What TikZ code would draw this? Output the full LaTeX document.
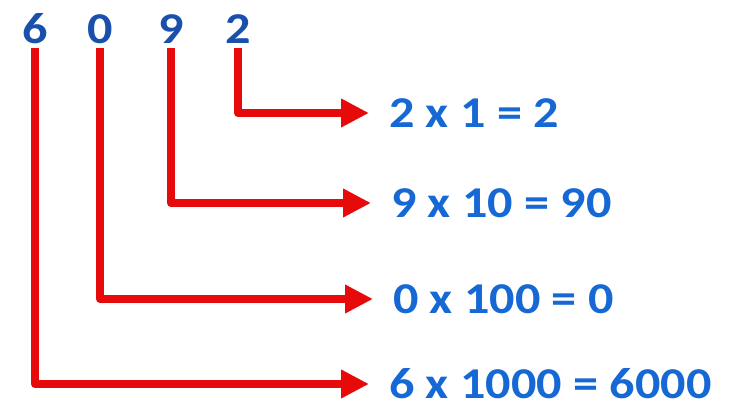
\documentclass[tikz,border=0pt]{standalone}
\usepackage{fontspec}
\setmainfont{Carlito}
\usetikzlibrary{arrows.meta}
\definecolor{linered}{RGB}{230,10,10}
\definecolor{textblue}{RGB}{22,104,212}
\definecolor{digitblue}{RGB}{24,80,172}
\tikzset{
  digit/.style={font=\bfseries\fontsize{44}{44}\selectfont, text=digitblue, inner sep=4pt},
  result/.style={font=\bfseries\fontsize{44}{44}\selectfont, text=textblue, inner sep=0pt, anchor=west},
  conn/.style={draw=linered, line width=8pt, line join=round, shorten >=20pt,
    -{Triangle[length=28pt,width=27pt,fill=linered]}},
}
\newcommand{\wide}[1]{\scalebox{1.14}[1]{#1}}
\begin{document}
\begin{tikzpicture}[x=1pt,y=-1pt]
\useasboundingbox[fill=white] (0,0) rectangle (730,411);
\node[digit] (d6) at (35,29) {\wide{6}};
\node[digit] (d0) at (100,29) {\wide{0}};
\node[digit] (d9) at (171,29) {\wide{9}};
\node[digit] (d2) at (238,29) {\wide{2}};
\node[result] (r2) at (389,113) {\wide{2 x 1 = 2}};
\node[result] (r9) at (391,203) {\wide{9 x 10 = 90}};
\node[result] (r0) at (393,299) {\wide{0 x 100 = 0}};
\node[result] (r6) at (389,384) {\wide{6 x 1000 = 6000}};
\draw[conn] (d2.south) |- (r2.west);
\draw[conn] (d9.south) |- (r9.west);
\draw[conn] (d0.south) |- (r0.west);
\draw[conn] (d6.south) |- (r6.west);
\end{tikzpicture}
\end{document}
